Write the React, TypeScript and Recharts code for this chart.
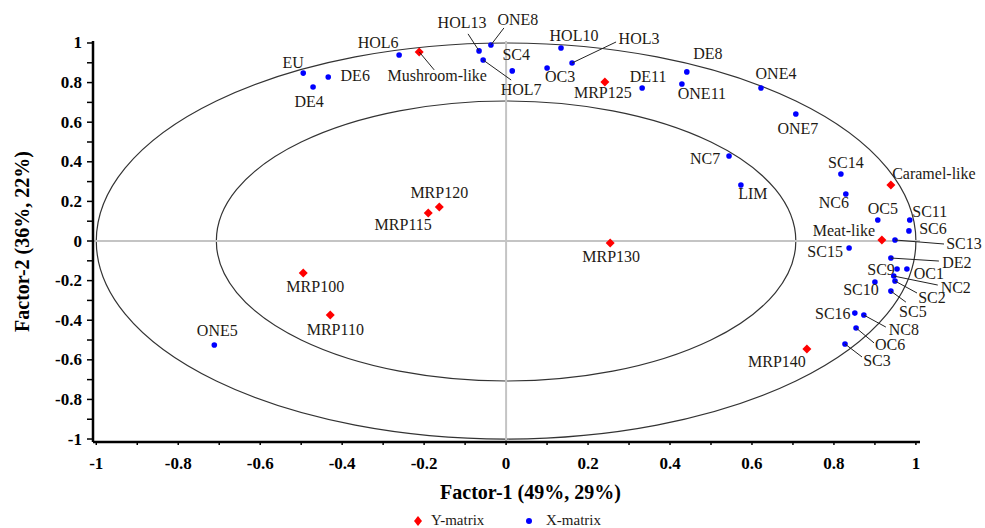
import React from 'react';
import { ScatterChart, Scatter, XAxis, YAxis, ReferenceLine, ReferenceArea } from 'recharts';

// Y-matrix loadings (red diamonds)
const yNames = ['Mushroom-like', 'MRP125', 'Caramel-like', 'Meat-like', 'MRP130', 'MRP120', 'MRP115', 'MRP100', 'MRP110', 'MRP140'];
const yF1 = [-0.212, 0.241, 0.939, 0.917, 0.254, -0.163, -0.19, -0.495, -0.429, 0.734];
const yF2 = [0.955, 0.803, 0.283, 0.005, -0.01, 0.172, 0.141, -0.162, -0.374, -0.545];

// X-matrix loadings (blue dots)
const xNames = ['EU', 'DE6', 'DE4', 'HOL6', 'HOL13', 'ONE8', 'HOL7', 'SC4', 'HOL10', 'OC3', 'HOL3', 'DE11', 'DE8', 'ONE11', 'ONE4', 'ONE7', 'NC7', 'LIM', 'SC14', 'NC6', 'OC5', 'SC11', 'SC6', 'SC13', 'SC15', 'DE2', 'SC9', 'OC1', 'NC2', 'SC2', 'SC10', 'SC5', 'SC16', 'NC8', 'OC6', 'SC3', 'ONE5'];
const xF1 = [-0.495, -0.434, -0.471, -0.261, -0.066, -0.037, -0.056, 0.015, 0.134, 0.1, 0.161, 0.332, 0.441, 0.429, 0.622, 0.707, 0.544, 0.573, 0.817, 0.829, 0.907, 0.985, 0.983, 0.949, 0.837, 0.939, 0.954, 0.978, 0.946, 0.949, 0.9, 0.939, 0.851, 0.873, 0.854, 0.827, -0.712];
const xF2 = [0.848, 0.828, 0.778, 0.939, 0.96, 0.99, 0.914, 0.859, 0.975, 0.874, 0.899, 0.773, 0.854, 0.793, 0.773, 0.641, 0.429, 0.283, 0.338, 0.237, 0.106, 0.106, 0.051, 0.005, -0.035, -0.086, -0.141, -0.141, -0.177, -0.202, -0.207, -0.253, -0.364, -0.374, -0.439, -0.52, -0.525];

const axisTicks = [-1, -0.9, -0.8, -0.7, -0.6, -0.5, -0.4, -0.3, -0.2, -0.1, 0, 0.1, 0.2, 0.3, 0.4, 0.5, 0.6, 0.7, 0.8, 0.9, 1];

// label placement: [dx, dy] of text centre from the point, optional leader end [lx, ly]
const labelPos: Record<string, number[]> = {
  'Mushroom-like': [18, 24, 15, 18], MRP125: [-2, 11], 'Caramel-like': [43, -11], 'Meat-like': [-38, -10],
  MRP130: [1, 14], MRP120: [0, -14], MRP115: [-25, 11], MRP100: [12, 13], MRP110: [5, 14], MRP140: [-30, 13],
  EU: [-10, -11], DE6: [27, -2], DE4: [-4, 15], HOL6: [-21, -13], HOL13: [-17, -28, -11, -17],
  ONE8: [27, -25, 13, -17], HOL7: [38, 29, 28, 20], SC4: [4, -16], HOL10: [13, -12], OC3: [13, 9],
  HOL3: [67, -24, 44, -21], DE11: [6, -11], DE8: [21, -18], ONE11: [20, 10], ONE4: [15, -14],
  ONE7: [2, 14], NC7: [-24, 2], LIM: [12, 9], SC14: [5, -12], NC6: [-12, 8], OC5: [5, -12],
  SC11: [20, -9], SC6: [24, -2], SC13: [69, 3, 49, 4], SC15: [-24, 4], DE2: [66, 4, 48, 3],
  SC9: [-16, 1], OC1: [22, 5], NC2: [62, 11, 44, 9], SC2: [37, 16, 22, 12], SC10: [-14, 8],
  SC5: [22, 20, 15, 11], SC16: [-22, 0], NC8: [40, 14, 22, 12], OC6: [34, 17, 18, 15], SC3: [32, 17, 17, 13],
  ONE5: [3, -14],
};

const yData = yNames.map((name, i) => ({ name, f1: yF1[i], f2: yF2[i] }));
const xData = xNames.map((name, i) => ({ name, f1: xF1[i], f2: xF2[i] }));

const FONT = 'Liberation Serif, Tinos, DejaVu Serif, serif';

const PointLabel = ({ cx, cy, name }: any) => {
  const p = labelPos[name] || [0, -12];
  return (
    <g>
      {p.length > 2 && <line x1={cx} y1={cy} x2={cx + p[2]} y2={cy + p[3]} stroke="#222" strokeWidth={1} />}
      <text x={cx + p[0]} y={cy + p[1]} textAnchor="middle" dominantBaseline="central" style={{ fontFamily: FONT, fontSize: 16 }} fill="#1e1a14">
        {name}
      </text>
    </g>
  );
};

const Diamond = (props: any) => {
  const { cx, cy, payload } = props;
  const s = 4.5;
  return (
    <g>
      <polygon points={`${cx},${cy - s} ${cx + s},${cy} ${cx},${cy + s} ${cx - s},${cy}`} fill="#ff0000" />
      <PointLabel cx={cx} cy={cy} name={payload.name} />
    </g>
  );
};

const Dot = (props: any) => {
  const { cx, cy, payload } = props;
  return (
    <g>
      <circle cx={cx} cy={cy} r={2.8} fill="#0000ff" />
      <PointLabel cx={cx} cy={cy} name={payload.name} />
    </g>
  );
};

const fmt = (v: number) => String(Number(v.toFixed(1)));
const isMajor = (v: number) => Math.round(v * 10) % 2 === 0;

const tickStyle = { fontFamily: FONT, fontWeight: 'bold', fontSize: 17 } as any;

const YTick = ({ x, y, payload }: any) => (
  <g>
    <line x1={x - 6} y1={y} x2={x} y2={y} stroke="#000" strokeWidth={1.5} />
    {isMajor(payload.value) && (
      <text x={x - 11} y={y} textAnchor="end" dominantBaseline="central" style={tickStyle} fill="#000">
        {fmt(payload.value)}
      </text>
    )}
  </g>
);

const XTick = ({ x, y, payload }: any) => (
  <g>
    <line x1={x} y1={y} x2={x} y2={y + 3} stroke="#000" strokeWidth={1.5} />
    {isMajor(payload.value) && (
      <text x={x} y={y + 21} textAnchor="middle" dominantBaseline="central" style={tickStyle} fill="#000">
        {fmt(payload.value)}
      </text>
    )}
  </g>
);

const Ellipse = (p: any) => (
  <ellipse cx={p.x + p.width / 2} cy={p.y + p.height / 2} rx={p.width / 2} ry={p.height / 2} fill="none" stroke="#333" strokeWidth={1.2} />
);

const innerR = 0.707;
const titleStyle = { fontFamily: FONT, fontWeight: 'bold', fontSize: 20 } as any;

export default function App() {
  return (
    <div style={{ position: 'absolute', left: 0, top: 0, width: 985, height: 528, background: '#fff', overflow: 'hidden' }}>
      <ScatterChart width={985} height={528} margin={{ top: 41, right: 65, left: 0, bottom: 0 }}>
        <XAxis
          type="number"
          dataKey="f1"
          domain={[-1.008, 1.01]}
          ticks={axisTicks}
          interval={0}
          tickSize={0}
          tickMargin={0}
          tickLine={false}
          tick={<XTick />}
          height={86}
          axisLine={{ stroke: '#000', strokeWidth: 2.5 }}
          label={{
            content: (props: any) => {
              const vb = props.viewBox;
              return (
                <text x={vb.x + vb.width / 2 + 24} y={vb.y + 50} textAnchor="middle" dominantBaseline="central" style={titleStyle} fill="#000">
                  Factor-1 (49%, 29%)
                </text>
              );
            },
          }}
        />
        <YAxis
          type="number"
          dataKey="f2"
          domain={[-1.015, 1.01]}
          ticks={axisTicks}
          interval={0}
          tickSize={0}
          tickMargin={0}
          tickLine={false}
          tick={<YTick />}
          width={93}
          axisLine={{ stroke: '#000', strokeWidth: 2.5 }}
          label={{
            content: (props: any) => {
              const vb = props.viewBox;
              const cy = vb.y + vb.height / 2;
              return (
                <text x={22} y={cy} transform={`rotate(-90, 22, ${cy})`} textAnchor="middle" dominantBaseline="central" style={titleStyle} fill="#000">
                  Factor-2 (36%, 22%)
                </text>
              );
            },
          }}
        />
        <ReferenceLine x={0} stroke="#c4c4c4" strokeWidth={2} />
        <ReferenceLine y={0} stroke="#c4c4c4" strokeWidth={2} />
        <ReferenceArea x1={-1} x2={1} y1={-1} y2={1} shape={Ellipse} />
        <ReferenceArea x1={-innerR} x2={innerR} y1={-innerR} y2={innerR} shape={Ellipse} />
        <Scatter name="Y-matrix" data={yData} shape={Diamond} isAnimationActive={false} />
        <Scatter name="X-matrix" data={xData} shape={Dot} isAnimationActive={false} />
      </ScatterChart>
      <div style={{ position: 'absolute', top: 512, left: 0, width: 985, fontFamily: FONT, fontSize: 15, color: '#1e1a14' }}>
        <div style={{ position: 'absolute', left: 413, display: 'flex', alignItems: 'center', gap: 8 }}>
          <svg width={10} height={12}><polygon points="5,1 9,6 5,11 1,6" fill="#ff0000" /></svg>
          <span>Y-matrix</span>
        </div>
        <div style={{ position: 'absolute', left: 524, display: 'flex', alignItems: 'center', gap: 12 }}>
          <svg width={10} height={12}><circle cx={5} cy={6} r={3} fill="#0000ff" /></svg>
          <span>X-matrix</span>
        </div>
      </div>
    </div>
  );
}
